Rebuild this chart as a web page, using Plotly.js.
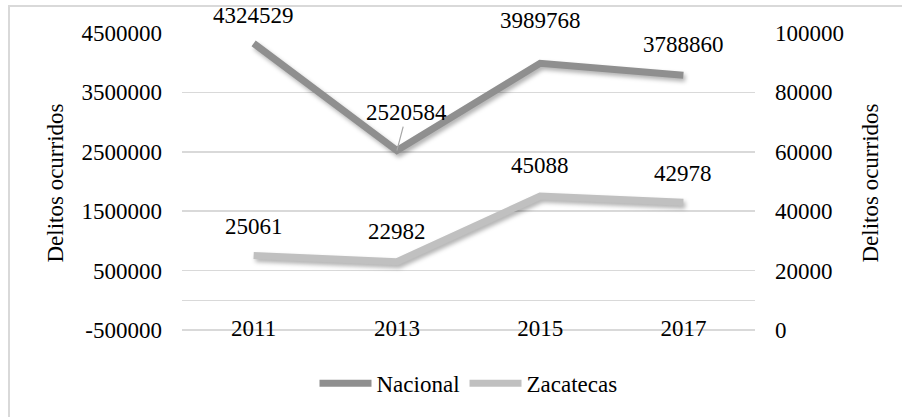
<!DOCTYPE html>
<html>
<head>
<meta charset="utf-8">
<script src="https://cdn.plot.ly/plotly-3.0.1.min.js"></script>
<style>
  html, body { margin: 0; padding: 0; background: #ffffff; }
  #wrap { position: relative; width: 902px; height: 417px; overflow: hidden; }
  #chart { position: absolute; left: 0; top: 0; width: 902px; height: 417px; }
  #frame { position: absolute; left: 8px; top: 5px; width: 900px; height: 420px;
           border-left: 2px solid #d9d9d9; border-top: 2px solid #d9d9d9; pointer-events: none; }
  #chart .scatterlayer path.js-line { filter: drop-shadow(2px 3px 2px rgba(0,0,0,0.3)); }
</style>
</head>
<body>
<div id="wrap">
  <div id="chart"></div>
  <div id="frame"></div>
</div>
<script>
// ---- data ----
const years = ["2011", "2013", "2015", "2017"];
const nacional = [4324529, 2520584, 3989768, 3788860];
const zacatecas = [25061, 22982, 45088, 42978];
const seriesNames = ["Nacional", "Zacatecas"];
const axisTitle = "Delitos ocurridos";
const leftTicks = [-500000, 500000, 1500000, 2500000, 3500000, 4500000];
const leftTickText = ["-500000", "500000", "1500000", "2500000", "3500000", "4500000"];
const rightTicks = [0, 20000, 40000, 60000, 80000, 100000];
const rightTickText = ["0", "20000", "40000", "60000", "80000", "100000"];

// ---- label offsets (px) ----
const nacLabelDx = [0, 10, 0, 0];
const nacLabelDy = [-28, -38, -43, -31];
const zacLabelDx = [0, 0, 0, 0];
const zacLabelDy = [-29, -30, -31, -29];

const FONT = "Liberation Serif";
const FS = 23;

const traces = [
  {
    x: years, y: nacional, name: seriesNames[0], type: "scatter", mode: "lines",
    line: { color: "#8f8f8f", width: 7 }, yaxis: "y", hoverinfo: "skip"
  },
  {
    x: years, y: zacatecas, name: seriesNames[1], type: "scatter", mode: "lines",
    line: { color: "#c0c0c0", width: 7 }, yaxis: "y2", hoverinfo: "skip"
  }
];

const annotations = [];
nacional.forEach((v, i) => {
  const withLeader = (i === 1);
  annotations.push({
    x: i, y: v, xref: "x", yref: "y",
    text: String(v), font: { family: FONT, size: FS, color: "#000" },
    showarrow: withLeader,
    ax: nacLabelDx[i], ay: nacLabelDy[i],
    arrowhead: 0, arrowwidth: 1.2, arrowcolor: "#a6a6a6", standoff: 0,
    xshift: withLeader ? 0 : nacLabelDx[i], yshift: withLeader ? 0 : -nacLabelDy[i]
  });
});
zacatecas.forEach((v, i) => {
  annotations.push({
    x: i, y: v, xref: "x", yref: "y2",
    text: String(v), font: { family: FONT, size: FS, color: "#000" },
    showarrow: false, xshift: zacLabelDx[i], yshift: -zacLabelDy[i]
  });
});

const layout = {
  width: 902, height: 417,
  margin: { l: 182, r: 147, t: 33, b: 82, pad: 0 },
  paper_bgcolor: "rgba(0,0,0,0)", plot_bgcolor: "rgba(0,0,0,0)",
  font: { family: FONT, size: FS, color: "#000" },
  showlegend: true,
  legend: {
    orientation: "h", x: 0.5, xanchor: "center", y: -0.168, yanchor: "middle",
    font: { family: FONT, size: FS, color: "#000" }, bgcolor: "rgba(0,0,0,0)",
    itemwidth: 52, tracegroupgap: 0
  },
  xaxis: {
    type: "category", range: [-0.5, 3.5], autorange: false,
    showgrid: false, zeroline: false, showline: false,
    ticks: "", ticklabelstandoff: -21,
    tickfont: { family: FONT, size: FS, color: "#000" }, fixedrange: true
  },
  yaxis: {
    range: [-550000, 4500000], tickmode: "array", tickvals: leftTicks, ticktext: leftTickText,
    showgrid: true, gridcolor: "#d9d9d9", gridwidth: 1.5,
    zeroline: true, zerolinecolor: "#d9d9d9", zerolinewidth: 1.5,
    showline: false, ticks: "", ticklabelstandoff: 19,
    tickfont: { family: FONT, size: FS, color: "#000" },
    title: { text: axisTitle, font: { family: FONT, size: FS, color: "#000" }, standoff: 11 },
    fixedrange: true
  },
  yaxis2: {
    range: [-1000, 100000], tickmode: "array", tickvals: rightTicks, ticktext: rightTickText,
    overlaying: "y", side: "right",
    showgrid: false, zeroline: false, showline: false, ticks: "", ticklabelstandoff: 19,
    tickfont: { family: FONT, size: FS, color: "#000" },
    title: { text: axisTitle, font: { family: FONT, size: FS, color: "#000" }, standoff: 18 },
    fixedrange: true
  },
  annotations: annotations
};

Plotly.newPlot("chart", traces, layout, { displayModeBar: false, staticPlot: true });
</script>
</body>
</html>
